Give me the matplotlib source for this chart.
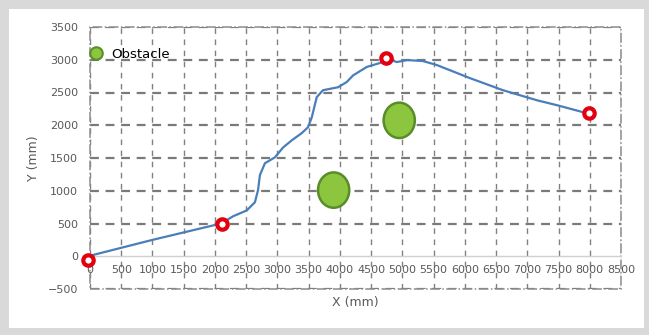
import matplotlib.pyplot as plt
from matplotlib.patches import Ellipse, Rectangle
from matplotlib.lines import Line2D

# robot path (mm)
path_x = [50, 1000, 2100, 2290, 2510, 2640, 2690, 2720, 2800, 2960, 3090, 3230, 3390,
          3490, 3550, 3630, 3730, 3970, 4110, 4210, 4430, 4640, 4750, 4910, 5080,
          5330, 5550, 6080, 6610, 7160, 7480, 7890, 8000]
path_y = [20, 250, 500, 610, 700, 825, 1010, 1240, 1420, 1510, 1660, 1770, 1880,
          1970, 2120, 2430, 2535, 2580, 2660, 2760, 2890, 2950, 3020, 2965, 2995,
          2980, 2920, 2720, 2535, 2380, 2305, 2200, 2185]

# waypoints (red markers)
wp_x = [-40, 2120, 4740, 7990]
wp_y = [-60, 490, 3030, 2180]

# obstacles: centre and size (mm)
obs_x = [3900, 4950]
obs_y = [1010, 2075]
obs_w = [500, 500]
obs_h = [540, 540]

xticks = list(range(0, 8501, 500))
yticks = list(range(-500, 3501, 500))

fig = plt.figure(figsize=(6.49, 3.35), dpi=100, facecolor='#d9d9d9')
fig.add_artist(Rectangle((9 / 649, 7 / 335), 635 / 649, 319 / 335,
                         transform=fig.transFigure, facecolor='white',
                         edgecolor='none', zorder=-10))
ax = fig.add_axes([90 / 649, 46 / 335, 531 / 649, 262 / 335])
ax.set_facecolor('none')

ax.set_xlim(0, 8500)
ax.set_ylim(-500, 3500)
ax.set_xticks(xticks)
ax.set_yticks(yticks)

# grid
ax.yaxis.grid(True, color='#7a7a7a', linestyle=(0, (4, 3)), lw=1.6)
ax.xaxis.grid(True, color='#808080', linestyle=(0, (4, 4)), lw=1.0)
ax.set_axisbelow(True)
ax.yaxis.get_gridlines()[yticks.index(0)].set_visible(False)

# frame and axis at y=0
for s in ['top', 'right', 'left']:
    ax.spines[s].set_visible(False)
ax.spines['bottom'].set_position(('data', 0))
ax.spines['bottom'].set_color('#d0d0d0')
ax.spines['bottom'].set_linewidth(1.0)
ax.add_patch(Rectangle((0, 0), 1, 1, transform=ax.transAxes, fill=False,
                       edgecolor='#8c8c8c', linestyle='-.', lw=1.1, clip_on=False))

ax.tick_params(axis='both', length=0, labelsize=8, labelcolor='#595959')
ax.tick_params(axis='y', pad=8.5)
ax.tick_params(axis='x', pad=6.5)

# obstacles
for x, y, w, h in zip(obs_x, obs_y, obs_w, obs_h):
    ax.add_patch(Ellipse((x, y), w, h, facecolor='#8cc63f', edgecolor='#5b8c2a',
                         lw=1.8, zorder=3))

# path and waypoints
ax.plot(path_x, path_y, color='#4a7ebb', lw=1.6, zorder=4)
ax.plot(wp_x, wp_y, linestyle='none', marker='o', markersize=7.5,
        markerfacecolor='white', markeredgecolor='#e3000f', markeredgewidth=3,
        zorder=5, clip_on=False)

ax.set_xlabel('X (mm)', fontsize=9, color='#595959')
ax.set_ylabel('Y (mm)', fontsize=9, color='#595959')
ax.xaxis.set_label_coords(0.5, -0.025)
ax.yaxis.set_label_coords(-0.095, 0.5)

handle = Line2D([], [], linestyle='none', marker='o', markersize=9,
                markerfacecolor='#8cc63f', markeredgecolor='#5b8c2a', markeredgewidth=1.5)
ax.legend([handle], ['Obstacle'], loc='center left', bbox_to_anchor=(0.002, 0.895),
          frameon=False, fontsize=9.5, handlelength=0.8, handletextpad=0.7,
          borderpad=0, borderaxespad=0)

fig.savefig('out.png', dpi=100, facecolor=fig.get_facecolor())
